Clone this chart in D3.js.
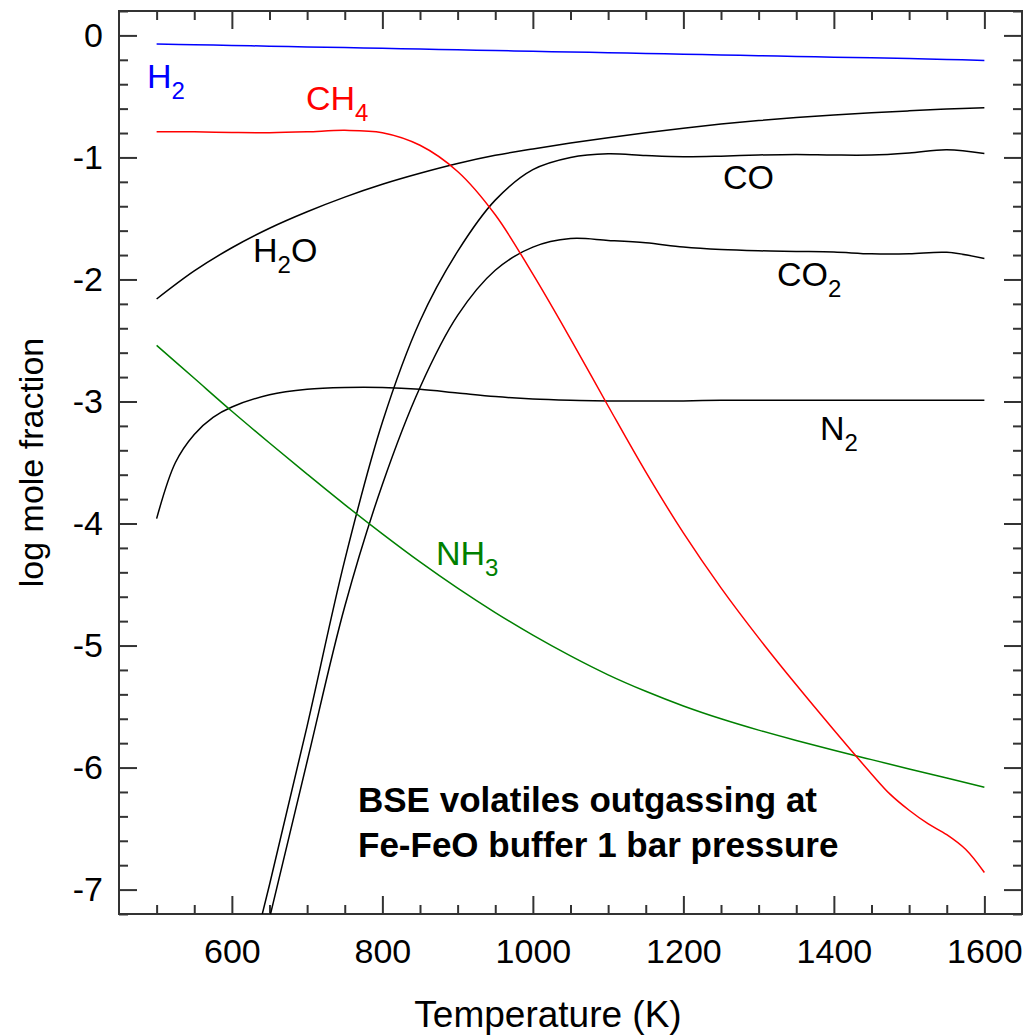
<!DOCTYPE html>
<html>
<head>
<meta charset="utf-8">
<script src="https://cdn.jsdelivr.net/npm/d3@7"></script>
<style>
  html, body { margin: 0; padding: 0; background: #fff; }
  svg { display: block; }
  text { font-family: "Liberation Sans", Arial, Helvetica, sans-serif; }
</style>
</head>
<body>
<svg id="chart" width="1031" height="1036"></svg>
<script>
// ---- data (log mole fraction vs temperature, K) ----
const temps = [500, 550, 600, 650, 700, 750, 800, 850, 900, 950, 1000, 1050, 1100,
               1150, 1200, 1250, 1300, 1350, 1400, 1450, 1500, 1550, 1600];
const H2  = [-0.07, -0.076, -0.082, -0.088, -0.094, -0.1, -0.106, -0.112, -0.118, -0.124, -0.13, -0.136, -0.142,
             -0.148, -0.154, -0.16, -0.166, -0.172, -0.178, -0.184, -0.19, -0.197, -0.205];
const H2O = [-2.16, -1.93, -1.74, -1.58, -1.445, -1.325, -1.22, -1.13, -1.05, -0.983, -0.93, -0.882, -0.838,
             -0.797, -0.76, -0.727, -0.698, -0.673, -0.652, -0.634, -0.618, -0.604, -0.592];
const NH3 = [-2.54, -2.81, -3.08, -3.34, -3.595, -3.845, -4.085, -4.315, -4.53, -4.73, -4.915, -5.085, -5.24,
             -5.375, -5.495, -5.60, -5.693, -5.778, -5.858, -5.935, -6.011, -6.086, -6.161];

const tempsCH4 = [500, 550, 600, 650, 700, 750, 800, 850, 900, 950, 1000, 1050, 1100,
                  1150, 1200, 1250, 1300, 1350, 1400, 1450, 1475, 1500, 1525, 1550, 1575, 1600];
const CH4 = [-0.79, -0.79, -0.795, -0.797, -0.79, -0.778, -0.797, -0.90, -1.115, -1.47, -1.957, -2.487, -3.037,
             -3.577, -4.077, -4.527, -4.937, -5.322, -5.692, -6.052, -6.22, -6.35, -6.46, -6.55, -6.67, -6.86];

const tempsCO = [600, 650, 700, 750, 800, 850, 900, 950, 1000, 1050, 1100,
                 1150, 1200, 1250, 1300, 1350, 1400, 1450, 1500, 1550, 1600];
const CO  = [-8.2, -6.96, -5.66, -4.30, -3.17, -2.34, -1.77, -1.35, -1.10, -1.00, -0.97,
             -0.985, -0.995, -0.99, -0.98, -0.975, -0.98, -0.98, -0.963, -0.937, -0.968];
const CO2 = [-8.5, -7.235, -5.95, -4.68, -3.68, -2.885, -2.295, -1.925, -1.735, -1.665, -1.68,
             -1.70, -1.735, -1.755, -1.765, -1.77, -1.775, -1.79, -1.79, -1.778, -1.828];

const tempsN2 = [500, 525, 550, 575, 600, 650, 700, 750, 800, 850, 900, 950, 1000, 1050, 1100,
                 1150, 1200, 1250, 1300, 1350, 1400, 1450, 1500, 1550, 1600];
const N2  = [-3.96, -3.50, -3.27, -3.13, -3.045, -2.945, -2.90, -2.885, -2.885, -2.90, -2.93, -2.96, -2.98, -2.99, -2.995,
             -2.995, -2.995, -2.99, -2.99, -2.99, -2.99, -2.99, -2.99, -2.99, -2.99];

const xMajorTicks = [600, 800, 1000, 1200, 1400, 1600];
const yMajorTicks = [0, -1, -2, -3, -4, -5, -6, -7];
const xTitle = "Temperature (K)";
const yTitle = "log mole fraction";
const note1 = "BSE volatiles outgassing at";
const note2 = "Fe-FeO buffer 1 bar pressure";

// ---- layout ----
const L = 119, R = 1022, T = 11, B = 914;
const svg = d3.select("#chart");
const x = d3.scaleLinear().domain([450, 1650]).range([L, R]);
const y = d3.scaleLinear().domain([-7.2, 0.2]).range([B, T]);

const xMinor = d3.range(500, 1601, 50).filter(v => v % 200 !== 0);
const yMinor = d3.range(-72, 3, 2).map(v => v / 10).filter(v => Math.abs(v - Math.round(v)) > 1e-6);

const axisColor = "#333";
function styleAxis(g) {
  g.select(".domain").remove();
  g.selectAll(".tick line").attr("stroke", axisColor).attr("stroke-width", 2);
  g.selectAll(".tick text").attr("fill", "#000").style("font-size", "34px");
}

// bottom
svg.append("g").attr("transform", `translate(0,${B})`)
  .call(d3.axisBottom(x).tickValues(xMajorTicks).tickSize(-18).tickPadding(25).tickFormat(d => String(d)))
  .call(styleAxis);
svg.append("g").attr("transform", `translate(0,${B})`)
  .call(d3.axisBottom(x).tickValues(xMinor).tickSize(-9).tickFormat(""))
  .call(styleAxis);
// top
svg.append("g").attr("transform", `translate(0,${T})`)
  .call(d3.axisTop(x).tickValues(xMajorTicks).tickSize(-18).tickFormat(""))
  .call(styleAxis);
svg.append("g").attr("transform", `translate(0,${T})`)
  .call(d3.axisTop(x).tickValues(xMinor).tickSize(-9).tickFormat(""))
  .call(styleAxis);
// left
svg.append("g").attr("transform", `translate(${L},0)`)
  .call(d3.axisLeft(y).tickValues(yMajorTicks).tickSize(-18).tickPadding(16).tickFormat(d => String(d)))
  .call(styleAxis);
svg.append("g").attr("transform", `translate(${L},0)`)
  .call(d3.axisLeft(y).tickValues(yMinor).tickSize(-9).tickFormat(""))
  .call(styleAxis);
// right
svg.append("g").attr("transform", `translate(${R},0)`)
  .call(d3.axisRight(y).tickValues(yMajorTicks).tickSize(-18).tickFormat(""))
  .call(styleAxis);
svg.append("g").attr("transform", `translate(${R},0)`)
  .call(d3.axisRight(y).tickValues(yMinor).tickSize(-9).tickFormat(""))
  .call(styleAxis);

// frame
svg.append("rect").attr("x", L).attr("y", T).attr("width", R - L).attr("height", B - T)
  .attr("fill", "none").attr("stroke", axisColor).attr("stroke-width", 2);

// clip
svg.append("defs").append("clipPath").attr("id", "plotclip")
  .append("rect").attr("x", L).attr("y", T).attr("width", R - L).attr("height", B - T);

const line = d3.line().x(d => x(d[0])).y(d => y(d[1])).curve(d3.curveCatmullRom.alpha(0.5));
const series = [
  { t: temps, v: H2O, c: "#000" },
  { t: tempsCO, v: CO, c: "#000" },
  { t: tempsCO, v: CO2, c: "#000" },
  { t: tempsN2, v: N2, c: "#000" },
  { t: temps, v: NH3, c: "#008000" },
  { t: tempsCH4, v: CH4, c: "#ff0000" },
  { t: temps, v: H2, c: "#0000ff" }
];
const gLines = svg.append("g").attr("clip-path", "url(#plotclip)");
series.forEach(s => {
  gLines.append("path")
    .datum(s.t.map((tt, i) => [tt, s.v[i]]))
    .attr("d", line)
    .attr("fill", "none")
    .attr("stroke", s.c)
    .attr("stroke-width", 1.5);
});

// species labels
const labels = [
  { main: "H", sub: "2", rest: "", px: 147, py: 88, c: "#0000ff" },
  { main: "CH", sub: "4", rest: "", px: 306, py: 110, c: "#ff0000" },
  { main: "H", sub: "2", rest: "O", px: 253, py: 262, c: "#000" },
  { main: "CO", sub: "", rest: "", px: 723, py: 189, c: "#000" },
  { main: "CO", sub: "2", rest: "", px: 777, py: 286, c: "#000" },
  { main: "N", sub: "2", rest: "", px: 820, py: 440, c: "#000" },
  { main: "NH", sub: "3", rest: "", px: 436, py: 565, c: "#008000" }
];
labels.forEach(l => {
  const t = svg.append("text").attr("x", l.px).attr("y", l.py).attr("fill", l.c)
    .style("font-size", "34px");
  t.append("tspan").text(l.main);
  if (l.sub) t.append("tspan").attr("dy", 11).style("font-size", "24px").text(l.sub);
  if (l.rest) t.append("tspan").attr("dy", -11).text(l.rest);
});

// annotation
svg.append("text").attr("x", 358).attr("y", 812).style("font-size", "35px")
  .style("font-weight", "bold").text(note1);
svg.append("text").attr("x", 358).attr("y", 857).style("font-size", "35px")
  .style("font-weight", "bold").text(note2);

// axis titles
svg.append("text").attr("x", 548).attr("y", 1027).attr("text-anchor", "middle")
  .style("font-size", "37px").text(xTitle);
svg.append("text").attr("transform", `translate(43,${(T + B) / 2}) rotate(-90)`)
  .attr("text-anchor", "middle").style("font-size", "34px").text(yTitle);
</script>
</body>
</html>
